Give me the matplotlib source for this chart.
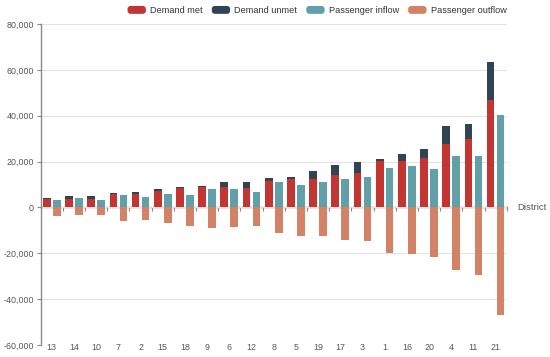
import matplotlib
matplotlib.use("Agg")
import matplotlib.pyplot as plt
import numpy as np
from matplotlib.patches import FancyBboxPatch, Patch
from matplotlib.legend_handler import HandlerPatch
from matplotlib.ticker import FuncFormatter, MultipleLocator

districts = ['13', '14', '10', '7', '2', '15', '18', '9', '6', '12', '8',
             '5', '19', '17', '3', '1', '16', '20', '4', '11', '21']
demand_met = [3700, 3500, 3500, 6000, 5700, 7000, 8300, 8900, 8800, 8500, 11500,
              12500, 12500, 14300, 14900, 20200, 20200, 21600, 27500, 29700, 46900]
demand_unmet = [400, 1300, 1300, 300, 1000, 900, 600, 600, 2200, 2500, 1500,
                700, 3600, 4400, 4900, 800, 3200, 4000, 7800, 6900, 16500]
passenger_inflow = [3400, 3900, 3100, 5300, 4400, 6000, 5400, 7900, 8200, 6700, 11300,
                    10000, 11200, 12500, 13200, 17100, 18000, 16800, 22600, 22300, 40400]
passenger_outflow = [-3800, -3500, -3500, -5800, -5500, -6900, -8300, -8900, -8600, -8300, -11200,
                     -12400, -12300, -14200, -14800, -20000, -20300, -21500, -27500, -29600, -46700]

C_MET, C_UNMET, C_IN, C_OUT = '#c23531', '#2f4554', '#61a0a8', '#d48265'
AXIS_C = '#8a8a8a'
GRID_C = '#e3e3e3'
TXT_C = '#555555'

plt.rcParams['font.family'] = ['Liberation Sans', 'DejaVu Sans']

fig = plt.figure(figsize=(5.5, 3.57), dpi=100)
ax = fig.add_axes([40.7 / 550, 1 - 345 / 357, (506.7 - 40.7) / 550, (345 - 24) / 357])

x = np.arange(len(districts))
w = 0.347
off = 0.225
met = np.array(demand_met)
unmet = np.array(demand_unmet)

ax.bar(x - off, met, w, color=C_MET, zorder=3)
ax.bar(x - off, unmet, w, bottom=met, color=C_UNMET, zorder=3)
ax.bar(x + off, passenger_inflow, w, color=C_IN, zorder=3)
ax.bar(x + off, passenger_outflow, w, color=C_OUT, zorder=3)

ax.set_xlim(-0.5, len(districts) - 0.5)
ax.set_ylim(-60000, 80000)
ax.yaxis.set_major_locator(MultipleLocator(20000))
ax.yaxis.set_major_formatter(FuncFormatter(lambda v, p: f"{int(v):,}"))
ax.grid(axis='y', color=GRID_C, linewidth=0.8, zorder=0)
ax.set_axisbelow(True)

for s in ['top', 'right', 'bottom']:
    ax.spines[s].set_visible(False)
ax.spines['left'].set_color(AXIS_C)
ax.spines['left'].set_linewidth(1.0)
ax.tick_params(axis='y', direction='out', length=3, width=0.8, color=AXIS_C,
               labelsize=6.4, labelcolor=TXT_C, pad=2)

ax.set_xticks(x)
ax.set_xticklabels(districts)
ax.tick_params(axis='x', length=0, labelsize=6.4, labelcolor=TXT_C, pad=-1.5)

# zero axis line with boundary ticks
sec = ax.secondary_xaxis(0, transform=ax.transData)
sec.set_xticks(np.arange(len(districts) + 1) - 0.5)
sec.tick_params(axis='x', direction='out', length=3, width=0.8, color=AXIS_C,
                labelbottom=False, labeltop=False)
for s in sec.spines.values():
    s.set_color(AXIS_C)
    s.set_linewidth(1.0)

ax.text(1.022, 0, 'District', transform=ax.get_yaxis_transform(), ha='left', va='center',
        fontsize=6.8, color=TXT_C)


class RoundHandler(HandlerPatch):
    def create_artists(self, legend, orig_handle, xdescent, ydescent, width, height,
                       fontsize, trans):
        p = FancyBboxPatch((-xdescent, -ydescent), width, height,
                           boxstyle="round,pad=0,rounding_size=2.2",
                           facecolor=orig_handle.get_facecolor(), edgecolor='none',
                           transform=trans)
        return [p]


handles = [Patch(facecolor=C_MET), Patch(facecolor=C_UNMET),
           Patch(facecolor=C_IN), Patch(facecolor=C_OUT)]
labels = ['Demand met', 'Demand unmet', 'Passenger inflow', 'Passenger outflow']
fig.legend(handles, labels, loc='center right', bbox_to_anchor=(506.5 / 550, 1 - 10.5 / 357),
           ncol=4, frameon=False, fontsize=6.6, labelcolor='#333333',
           handlelength=2.0, handleheight=0.95, handletextpad=0.45, columnspacing=1.0,
           borderpad=0, borderaxespad=0,
           handler_map={Patch: RoundHandler()})

fig.savefig('out.png', dpi=100)
